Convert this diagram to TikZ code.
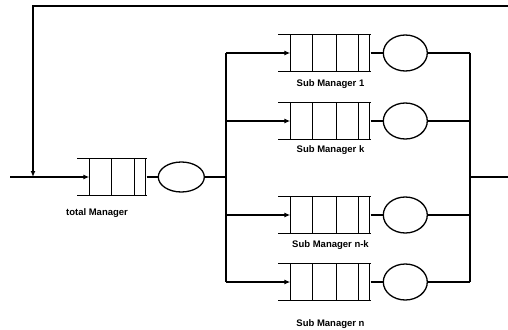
\documentclass[tikz,border=0pt]{standalone}
\usepackage{fontspec}
\setmainfont{Liberation Sans}
\usetikzlibrary{arrows.meta, positioning, shapes.geometric}

\begin{document}
\begin{tikzpicture}[
  x=1pt, y=-1pt,
  line width=1.3pt,
  queue/.style  = {rectangle, minimum height=36pt, inner sep=0pt},
  totq/.style   = {queue, minimum width=56pt},
  subq/.style   = {queue, minimum width=79pt},
  server/.style = {ellipse, draw, inner sep=0pt, minimum width=44pt,
                   minimum height=36pt},
  tag/.style    = {inner sep=0pt, font=\fontsize{9.5}{11}\selectfont\bfseries},
  arr/.style    = {-{Latex[length=6pt, width=5pt]}},
]
\useasboundingbox (0,0) rectangle (508,329);
% total manager
\node[totq] (q0) at (118,177) {};
\node[server, minimum width=46pt, minimum height=30pt, right=11pt of q0] (c0) {};
\node[tag, below=12pt of q0, xshift=-21pt] (t0) {total Manager};
% sub managers
\node[subq] (s1) at (330.5,53)  {};
\node[subq] (s2) at (330.5,121) {};
\node[subq] (s3) at (330.5,215) {};
\node[subq] (s4) at (330.5,282) {};
\node[server, right=12pt of s1] (c1) {};
\node[server, right=12pt of s2] (c2) {};
\node[server, right=12pt of s3] (c3) {};
\node[server, right=12pt of s4] (c4) {};
\node[tag, below=7pt of s1]  (t1) {Sub Manager 1};
\node[tag, below=5pt of s2]  (t2) {Sub Manager k};
\node[tag, below=6pt of s3]  (t3) {Sub Manager n-k};
\node[tag, below=18pt of s4] (t4) {Sub Manager n};
% queue cells
\draw ([xshift=-12pt]q0.north west) -- (q0.north east)
      ([xshift=-12pt]q0.south west) -- (q0.south east);
\foreach \dx in {0,22,45,56}
  \draw ([xshift=\dx]q0.north west) -- ([xshift=\dx]q0.south west);
\foreach \q in {s1,s2,s3,s4} {
  \draw ([xshift=-12pt]\q.north west) -- (\q.north east)
        ([xshift=-12pt]\q.south west) -- (\q.south east);
  \foreach \dx in {0,22,46,68,79}
    \draw ([xshift=\dx]\q.north west) -- ([xshift=\dx]\q.south west);
}
% bus points
\coordinate (in)  at (10,177);
\coordinate (fb)  at (33,177);
\coordinate (fbl) at (33,6);
\coordinate (fbr) at (508,6);
\coordinate (lb0) at (226,177);
\coordinate (lb1) at (226,53);
\coordinate (lb2) at (226,121);
\coordinate (lb3) at (226,215);
\coordinate (lb4) at (226,282);
\coordinate (rb0) at (470,177);
\coordinate (rb1) at (470,53);
\coordinate (rb2) at (470,121);
\coordinate (rb3) at (470,215);
\coordinate (rb4) at (470,282);
\coordinate (out) at (508,177);
% connections
\draw[arr] (in) -- (q0.west);
\draw[arr] (fbr) -- (fbl) -- (fb);
\draw (q0) -- (c0);
\draw (c0) -- (lb0);
\draw (lb1) -- (lb4);
\draw (rb1) -- (rb4);
\draw (rb0) -- (out);
\foreach \i in {1,2,3,4} {
  \draw[arr] (lb\i) -- (s\i.west);
  \draw (s\i) -- (c\i);
  \draw (c\i) -- (rb\i);
}
\end{tikzpicture}
\end{document}
